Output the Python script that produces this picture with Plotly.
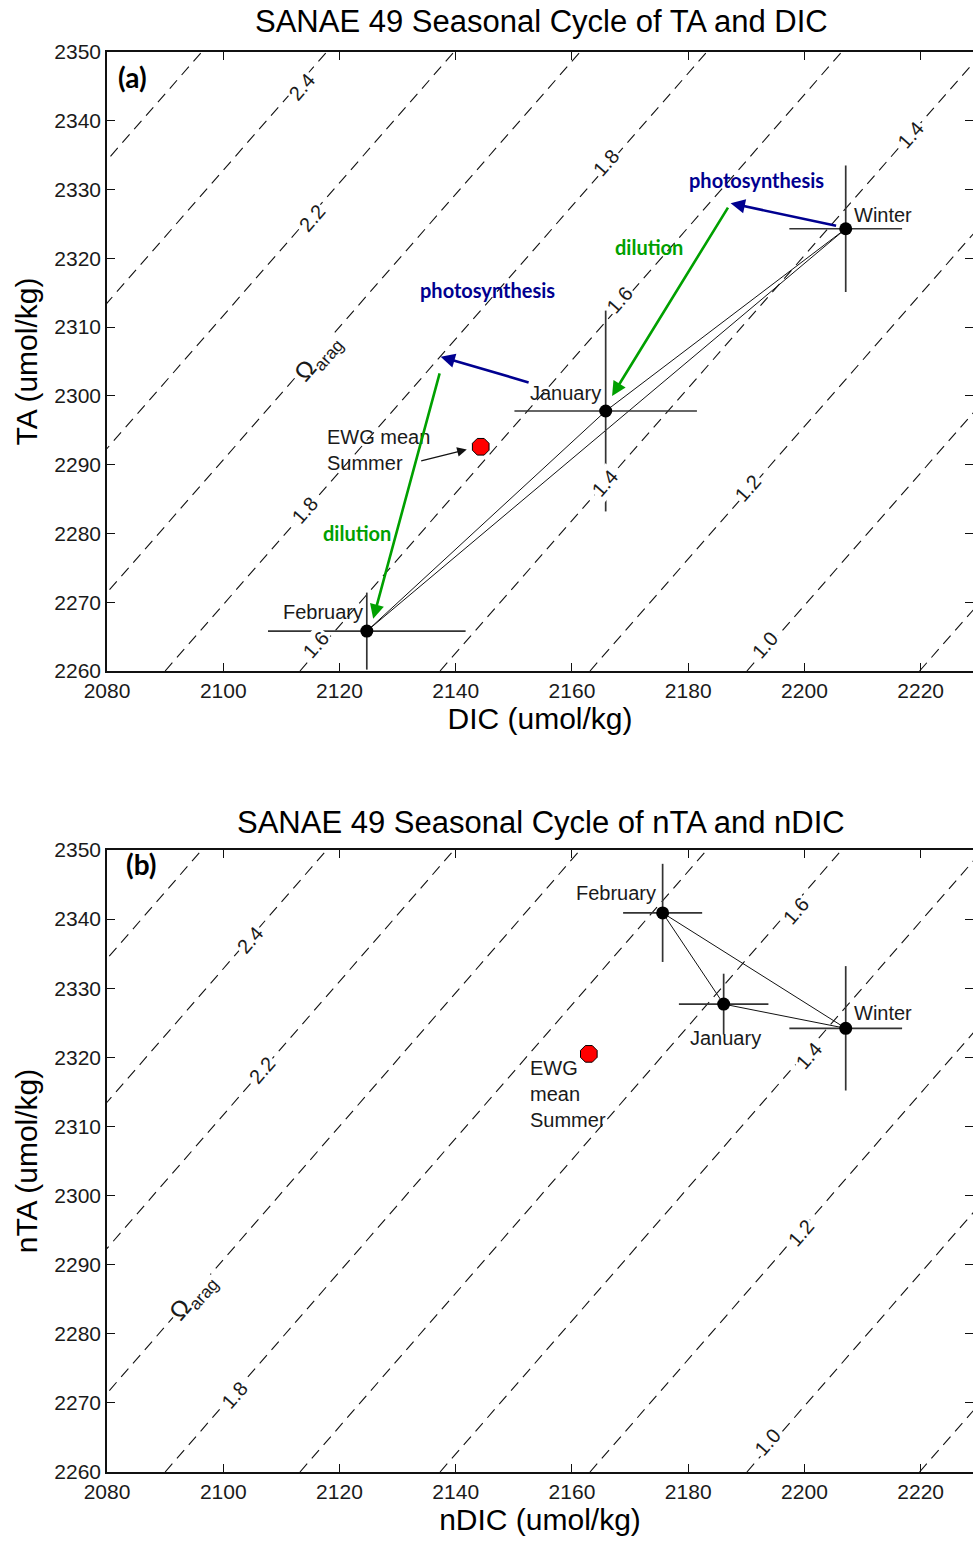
import plotly.graph_objects as go

# ---------------- data ----------------
# Omega-aragonite isolines: DIC where each isoline meets TA=2260 and TA=2350
omega_levels = [2.6, 2.4, 2.2, 2.0, 1.8, 1.6, 1.4, 1.2, 1.0, 0.8]
dic_at_ta_low = [2003.1, 2024.6, 2046.5, 2068.2, 2090.0, 2113.2, 2137.3, 2163.1, 2190.1, 2219.8]
dic_at_ta_high = [2096.3, 2117.8, 2139.7, 2161.4, 2183.2, 2206.4, 2230.7, 2256.5, 2283.5, 2313.6]
ta_low = 2260
ta_high = 2350

# panel (a): TA / DIC
periods = ["February", "January", "Winter"]
dic_a = [2124.7, 2165.8, 2207.1]
ta_a = [2265.8, 2297.8, 2324.3]
dic_err_a = [17.0, 15.7, 9.7]
ta_err_a = [5.6, 14.6, 9.2]
ewg_dic_a = [2144.3]
ewg_ta_a = [2292.6]

# panel (b): nTA / nDIC
ndic_b = [2175.6, 2186.1, 2207.1]
nta_b = [2340.9, 2327.7, 2324.2]
ndic_err_b = [6.8, 7.7, 9.7]
nta_err_b = [7.1, 4.4, 9.0]
ewg_ndic_b = [2162.9]
ewg_nta_b = [2320.5]

# contour label positions (level text, x, y)
labels_a = [("2.4", 2113.5, 2344.9), ("2.2", 2115.3, 2325.9), ("Ω<sub>arag</sub>", 2116.3, 2305.5),
            ("1.8", 2165.8, 2333.9), ("1.6", 2168.2, 2313.9), ("1.4", 2218.3, 2337.9),
            ("1.8", 2114.1, 2283.4), ("1.6", 2115.9, 2263.8), ("1.4", 2165.7, 2287.3),
            ("1.2", 2190.3, 2286.6), ("1.0", 2193.2, 2263.8)]
labels_b = [("2.4", 2104.6, 2337.0), ("2.2", 2106.7, 2318.2), ("Ω<sub>arag</sub>", 2094.8, 2285.3),
            ("1.8", 2102.0, 2271.1), ("1.6", 2198.5, 2341.2), ("1.4", 2200.7, 2320.2),
            ("1.2", 2199.4, 2294.6), ("1.0", 2193.7, 2264.3)]

x_ticks = [2080, 2100, 2120, 2140, 2160, 2180, 2200, 2220]
y_ticks = [2260, 2270, 2280, 2290, 2300, 2310, 2320, 2330, 2340, 2350]

# ---------------- figure ----------------
W, H = 973, 1542
fig = go.Figure()

TXT = "#1a1a1a"
FONT = "Liberation Sans, Arial, sans-serif"
CAL = "Lato, Carlito, Calibri, sans-serif"


def add_panel(xa, ya, xs, ys, xerr, yerr, ewx, ewy):
    # isolines
    for lvl, d0, d1 in zip(omega_levels, dic_at_ta_low, dic_at_ta_high):
        fig.add_trace(go.Scatter(x=[d0, d1], y=[ta_low, ta_high], mode="lines",
                                 line=dict(color="#111", width=1.1, dash="11px,7px"),
                                 xaxis=xa, yaxis=ya, hoverinfo="skip", showlegend=False))
    # triangle connecting periods (Winter -> January -> February -> Winter)
    order = [2, 1, 0, 2]
    fig.add_trace(go.Scatter(x=[xs[i] for i in order], y=[ys[i] for i in order], mode="lines",
                             line=dict(color="#111", width=1), xaxis=xa, yaxis=ya,
                             hoverinfo="skip", showlegend=False))
    # points with error bars
    fig.add_trace(go.Scatter(x=xs, y=ys, mode="markers",
                             marker=dict(color="black", size=13),
                             error_x=dict(type="data", array=xerr, color="#333", thickness=1.7, width=0),
                             error_y=dict(type="data", array=yerr, color="#333", thickness=1.7, width=0),
                             xaxis=xa, yaxis=ya, showlegend=False, text=periods))
    # EWG mean summer
    fig.add_trace(go.Scatter(x=ewx, y=ewy, mode="markers",
                             marker=dict(color="#ff0000", size=18, symbol="octagon",
                                         line=dict(color="black", width=1)),
                             xaxis=xa, yaxis=ya, showlegend=False))


add_panel("x", "y", dic_a, ta_a, dic_err_a, ta_err_a, ewg_dic_a, ewg_ta_a)
add_panel("x2", "y2", ndic_b, nta_b, ndic_err_b, nta_err_b, ewg_ndic_b, ewg_nta_b)

ann = []


def contour_labels(labels, xr, yr):
    for t, x, y in labels:
        ann.append(dict(text=t, x=x, y=y, xref=xr, yref=yr, showarrow=False, textangle=-49,
                        bgcolor="white", borderpad=1,
                        font=dict(family=FONT, size=25 if "arag" in t else 20, color=TXT)))


contour_labels(labels_a, "x", "y")
contour_labels(labels_b, "x2", "y2")

# point labels
pl = [
    dict(text="February", x=2124.4, y=2268.6, xref="x", yref="y", xanchor="right", yanchor="middle"),
    dict(text="January", x=2165.3, y=2300.4, xref="x", yref="y", xanchor="right", yanchor="middle"),
    dict(text="Winter", x=2208.1, y=2326.3, xref="x", yref="y", xanchor="left", yanchor="middle"),
    dict(text="EWG mean<br>Summer", x=2117.5, y=2292.1, xref="x", yref="y", xanchor="left",
         yanchor="middle", align="left"),
    dict(text="February", x=2174.8, y=2343.8, xref="x2", yref="y2", xanchor="right", yanchor="middle"),
    dict(text="January", x=2186.5, y=2322.8, xref="x2", yref="y2", xanchor="center", yanchor="middle"),
    dict(text="Winter", x=2208.1, y=2326.4, xref="x2", yref="y2", xanchor="left", yanchor="middle"),
    dict(text="EWG<br>mean<br>Summer", x=2152.4, y=2314.7, xref="x2", yref="y2", xanchor="left",
         yanchor="middle", align="left"),
]
for a in pl:
    a["showarrow"] = False
    a["font"] = dict(family=FONT, size=20, color=TXT)
ann += pl

# arrows panel a (head x,y ; tail ax,ay)
BLUE = "#000090"
GREEN = "#00a000"
arrows = [
    (2187.3, 2328.0, 2205.7, 2324.7, BLUE),
    (2166.9, 2300.0, 2187.0, 2327.6, GREEN),
    (2137.4, 2305.7, 2152.8, 2301.9, BLUE),
    (2125.8, 2267.6, 2137.3, 2303.5, GREEN),
]
for x, y, ax, ay, c in arrows:
    ann.append(dict(x=x, y=y, ax=ax, ay=ay, xref="x", yref="y", axref="x", ayref="y", text="",
                    showarrow=True, arrowhead=2, arrowsize=1.1, arrowwidth=2.6, arrowcolor=c))
ann.append(dict(x=2141.9, y=2292.2, ax=2133.8, ay=2290.5, xref="x", yref="y", axref="x", ayref="y",
                text="", showarrow=True, arrowhead=2, arrowsize=1.6, arrowwidth=1.2, arrowcolor="#111"))

ann += [
    dict(text="<b>photosynthesis</b>", x=2191.8, y=2331.4, xref="x", yref="y", showarrow=False,
         font=dict(family=CAL, size=20, color=BLUE)),
    dict(text="<b>photosynthesis</b>", x=2145.4, y=2315.4, xref="x", yref="y", showarrow=False,
         font=dict(family=CAL, size=20, color=BLUE)),
    dict(text="<b>dilution</b>", x=2173.2, y=2321.6, xref="x", yref="y", showarrow=False,
         font=dict(family=CAL, size=20, color=GREEN)),
    dict(text="<b>dilution</b>", x=2123.0, y=2280.1, xref="x", yref="y", showarrow=False,
         font=dict(family=CAL, size=20, color=GREEN)),
]

# panel letters
ann += [
    dict(text="<b>(a)</b>", x=2081.5, y=2346.4, xref="x", yref="y", xanchor="left", yanchor="middle",
         showarrow=False, font=dict(family=CAL, size=28, color="black")),
    dict(text="<b>(b)</b>", x=2083.0, y=2348.0, xref="x2", yref="y2", xanchor="left", yanchor="middle",
         showarrow=False, font=dict(family=CAL, size=28, color="black")),
]

# titles
ann += [
    dict(text="SANAE 49 Seasonal Cycle of TA and DIC", x=541 / W, y=1 - 22 / H, xref="paper",
         yref="paper", showarrow=False, xanchor="center", yanchor="middle",
         font=dict(family=FONT, size=31, color="black")),
    dict(text="SANAE 49 Seasonal Cycle of nTA and nDIC", x=541 / W, y=1 - 822 / H, xref="paper",
         yref="paper", showarrow=False, xanchor="center", yanchor="middle",
         font=dict(family=FONT, size=31, color="black")),
]

ax_common = dict(showgrid=False, zeroline=False, showline=True, linecolor="#111", linewidth=1.5,
                 ticks="inside", ticklen=8, tickcolor="#111", mirror="ticks", automargin=False,
                 tickfont=dict(family=FONT, size=21, color=TXT))
TF = dict(family=FONT, size=30, color="black")

x0 = 107 / W
fig.update_layout(
    width=W, height=H, margin=dict(l=0, r=0, t=0, b=0, pad=0, autoexpand=False),
    paper_bgcolor="white", plot_bgcolor="white", showlegend=False,
    xaxis=dict(domain=[x0, 1], range=[2080, 2229], tickvals=x_ticks, anchor="y",
               title=dict(text="DIC (umol/kg)", standoff=4, font=TF), **ax_common),
    yaxis=dict(domain=[1 - 671 / H, 1 - 52 / H], range=[2260, 2350], tickvals=y_ticks, anchor="x",
               title=dict(text="TA (umol/kg)", standoff=8, font=TF), **ax_common),
    xaxis2=dict(domain=[x0, 1], range=[2080, 2229], tickvals=x_ticks, anchor="y2",
                title=dict(text="nDIC (umol/kg)", standoff=4, font=TF), **ax_common),
    yaxis2=dict(domain=[1 - 1472 / H, 1 - 850 / H], range=[2260, 2350], tickvals=y_ticks, anchor="x2",
                title=dict(text="nTA (umol/kg)", standoff=8, font=TF), **ax_common),
    annotations=ann,
)

fig.write_html("out.html")
